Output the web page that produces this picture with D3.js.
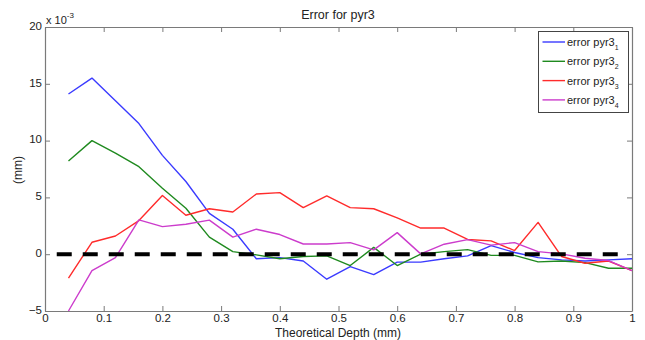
<!DOCTYPE html>
<html><head><meta charset="utf-8">
<script src="https://cdn.jsdelivr.net/npm/d3@7"></script>
<style>
html,body{margin:0;padding:0;background:#fff;}
svg{display:block;font-family:"Liberation Sans",Arial,sans-serif;}
</style></head>
<body>
<svg id="chart" width="645" height="340"></svg>
<script>
const depths = [0.04,0.08,0.12,0.16,0.20,0.24,0.28,0.32,0.36,0.40,0.44,0.48,0.52,0.56,0.60,0.64,0.68,0.72,0.76,0.80,0.84,0.88,0.92,0.96,1.00];
const pyr3_1 = [14.1,15.5,13.5,11.5,8.7,6.4,3.6,2.2,-0.4,-0.3,-0.6,-2.2,-1.1,-1.8,-0.7,-0.7,-0.4,-0.15,0.76,0.15,-0.3,-0.5,-0.6,-0.5,-0.4];
const pyr3_2 = [8.2,10.0,8.9,7.7,5.8,4.05,1.5,0.23,-0.06,-0.4,-0.2,-0.15,-1.0,0.6,-1.0,0.0,0.23,0.4,-0.1,-0.1,-0.68,-0.6,-0.74,-1.24,-1.24];
const pyr3_3 = [-2.1,1.05,1.6,2.96,5.16,3.43,4.0,3.72,5.3,5.42,4.1,5.13,4.1,4.0,3.2,2.3,2.3,1.3,1.17,0.32,2.8,-0.2,-0.8,-0.6,-1.44];
const pyr3_4 = [-5.0,-1.44,-0.3,3.02,2.43,2.64,3.0,1.5,2.2,1.73,0.9,0.9,1.02,0.38,1.9,0.03,0.88,1.28,0.8,1.02,0.23,0.03,-0.36,-0.56,-1.44];
const seriesNames = ["error pyr3","error pyr3","error pyr3","error pyr3"];
const seriesSubs = ["1","2","3","4"];
const seriesColors = ["#3a3aff","#1f8a1f","#ff2b2b","#cc3ccc"];
const xTicks = [0,0.1,0.2,0.3,0.4,0.5,0.6,0.7,0.8,0.9,1];
const yTicks = [-5,0,5,10,15,20];
const refLine = [[0.02,0],[0.98,0]];

const allSeries = [pyr3_1,pyr3_2,pyr3_3,pyr3_4];
const svg = d3.select("#chart");
const L=45,R=632,T=27,B=311;
const x = d3.scaleLinear().domain([0,1]).range([L,R]);
const y = d3.scaleLinear().domain([-5,20]).range([B,T]);
const axisCol = "#7a7a7a", textCol="#222";

// axes (MATLAB style: ticks inward, box)
const gB = svg.append("g").attr("transform",`translate(0,${B})`)
  .call(d3.axisBottom(x).tickValues(xTicks).tickSizeInner(-5).tickSizeOuter(0).tickPadding(3)
    .tickFormat(d=>d===0||d===1?d3.format("d")(d):d3.format(".1f")(d)));
const gT = svg.append("g").attr("transform",`translate(0,${T})`)
  .call(d3.axisTop(x).tickValues(xTicks).tickSizeInner(-5).tickSizeOuter(0).tickFormat(""));
const gL = svg.append("g").attr("transform",`translate(${L},0)`)
  .call(d3.axisLeft(y).tickValues(yTicks).tickSizeInner(-5).tickSizeOuter(0).tickPadding(3));
const gR = svg.append("g").attr("transform",`translate(${R},0)`)
  .call(d3.axisRight(y).tickValues(yTicks).tickSizeInner(-5).tickSizeOuter(0).tickFormat(""));
[gB,gT,gL,gR].forEach(g=>{
  g.select(".domain").attr("stroke",axisCol).attr("stroke-width",1.2);
  g.selectAll(".tick line").attr("stroke",axisCol);
  g.selectAll("text").attr("fill",textCol).attr("font-size",11.5).attr("font-family","Liberation Sans, Arial, sans-serif");
});
gL.selectAll(".tick text").attr("dy","0.2em");

// series lines
const line = d3.line().x((d,i)=>x(depths[i])).y(d=>y(d));
allSeries.forEach((s,i)=>{
  svg.append("path").datum(s).attr("d",line).attr("fill","none")
    .attr("stroke",seriesColors[i]).attr("stroke-width",1.4).attr("stroke-linejoin","round");
});

// dashed reference
svg.append("path").datum(refLine)
  .attr("d",d3.line().x(d=>x(d[0])).y(d=>y(d[1])))
  .attr("stroke","#000").attr("stroke-width",4).attr("stroke-dasharray","15,11").attr("fill","none");

// title & labels
svg.append("text").attr("x",338).attr("y",19).attr("text-anchor","middle")
  .attr("font-size",12.5).attr("fill",textCol).text("Error for pyr3");
svg.append("text").attr("x",338).attr("y",337).attr("text-anchor","middle")
  .attr("font-size",12).attr("fill",textCol).text("Theoretical Depth (mm)");
svg.append("text").attr("transform","translate(22,170) rotate(-90)").attr("text-anchor","middle")
  .attr("font-size",12).attr("fill",textCol).text("(mm)");
const ex = svg.append("text").attr("x",46).attr("y",24).attr("font-size",11).attr("fill",textCol);
ex.append("tspan").text("x 10");
ex.append("tspan").attr("dy",-6).attr("font-size",8).text("-3");

// legend
const lg = svg.append("g");
lg.append("rect").attr("x",538.5).attr("y",31.5).attr("width",90).attr("height",81)
  .attr("fill","#fff").attr("stroke","#444").attr("stroke-width",1);
seriesNames.forEach((n,i)=>{
  const yy = 42 + i*19.3;
  lg.append("line").attr("x1",542.5).attr("x2",565).attr("y1",yy).attr("y2",yy)
    .attr("stroke",seriesColors[i]).attr("stroke-width",1.4);
  const t = lg.append("text").attr("x",567).attr("y",yy+4).attr("font-size",11).attr("fill",textCol);
  t.append("tspan").text(n);
  t.append("tspan").attr("dy",4).attr("font-size",7).text(seriesSubs[i]);
});
</script>
</body></html>
